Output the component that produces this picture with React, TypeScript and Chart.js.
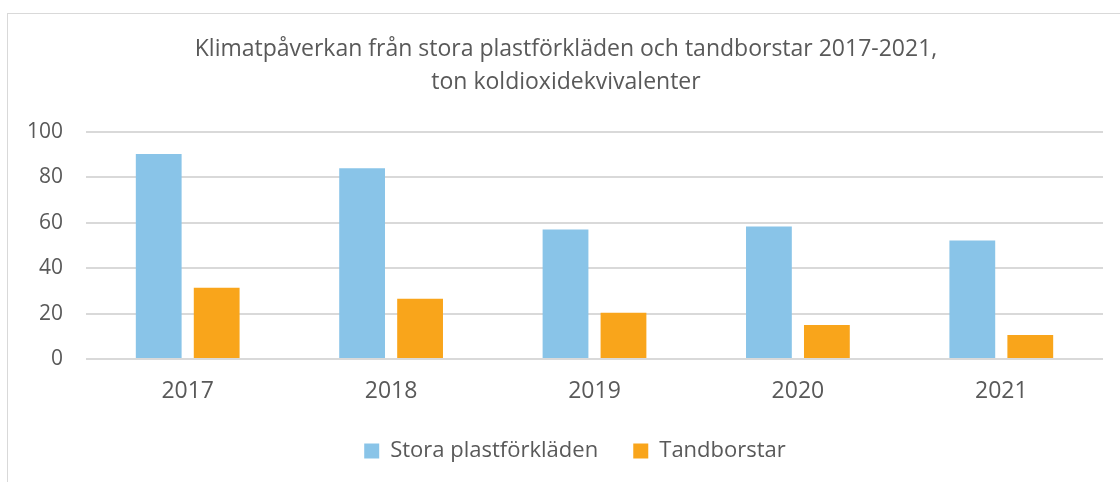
import React, { useEffect, useRef } from "react";
import { Chart, registerables } from "chart.js";

Chart.register(...registerables);

const categories = ["2017", "2018", "2019", "2020", "2021"];
const plastforkladen = [90.3, 84, 57.1, 58.4, 52.2];
const tandborstar = [31.4, 26.5, 20.4, 15, 10.6];
const seriesNames = ["Stora plastförkläden", "Tandborstar"];
const titleLines = [
  "Klimatpåverkan från stora plastförkläden och tandborstar 2017-2021,",
  "ton koldioxidekvivalenter",
];
const yTicks = [0, 20, 40, 60, 80, 100];

const FONT = "'Open Sans', 'Noto Sans', sans-serif";
const TEXT = "#595959";

const legendShift = {
  id: "legendShift",
  afterLayout(chart: any) {
    if (chart.legend) {
      chart.legend.left += 9;
      chart.legend.right += 9;
    }
  },
};

export default function App() {
  const ref = useRef<HTMLCanvasElement>(null);
  useEffect(() => {
    if (!ref.current) return;
    const chart = new Chart(ref.current, {
      type: "bar",
      data: {
        labels: categories,
        datasets: [
          {
            label: seriesNames[0],
            data: plastforkladen,
            backgroundColor: "#89C4E8",
            categoryPercentage: 0.57,
            barPercentage: 0.79,
          },
          {
            label: seriesNames[1],
            data: tandborstar,
            backgroundColor: "#F9A51B",
            categoryPercentage: 0.57,
            barPercentage: 0.79,
          },
        ],
      },
      plugins: [legendShift],
      options: {
        responsive: false,
        animation: false,
        layout: { padding: { left: 29, right: 17, top: 33, bottom: 10 } },
        plugins: {
          title: {
            display: true,
            text: titleLines,
            color: TEXT,
            font: { family: FONT, size: 23, weight: "normal", lineHeight: 33 / 23 },
            padding: { top: 0, bottom: 33 },
          },
          legend: {
            position: "bottom",
            labels: {
              color: TEXT,
              font: { family: FONT, size: 22 },
              boxWidth: 15,
              boxHeight: 15,
              padding: 18,
              generateLabels: (c: any) => {
                const items = Chart.defaults.plugins.legend.labels.generateLabels(c);
                if (items[0]) items[0].text = items[0].text + "   ";
                return items;
              },
            },
          },
          tooltip: { enabled: false },
        },
        scales: {
          x: {
            grid: { display: false, drawTicks: false },
            border: { display: false },
            ticks: { color: TEXT, font: { family: FONT, size: 23 }, padding: 19 },
            afterFit: (s: any) => {
              s.height = 63;
            },
          },
          y: {
            min: 0,
            max: 100,
            afterBuildTicks: (s: any) => {
              s.ticks = yTicks.map((v) => ({ value: v }));
            },
            grid: { color: "#D9D9D9", lineWidth: 2, drawTicks: false },
            border: { display: false },
            ticks: { color: TEXT, font: { family: FONT, size: 21 }, padding: 23 },
            afterFit: (s: any) => {
              s.width = 57;
            },
          },
        },
      },
    });
    return () => chart.destroy();
  }, []);

  return (
    <div style={{ position: "absolute", left: 0, top: 0, width: 1120, height: 482, background: "#fff" }}>
      <div
        style={{
          position: "absolute",
          left: 7,
          top: 13,
          width: 1113,
          height: 469,
          borderLeft: "1px solid #D9D9D9",
          borderTop: "1px solid #D9D9D9",
        }}
      />
      <canvas ref={ref} width={1120} height={482} style={{ position: "absolute", left: 0, top: 0 }} />
    </div>
  );
}
